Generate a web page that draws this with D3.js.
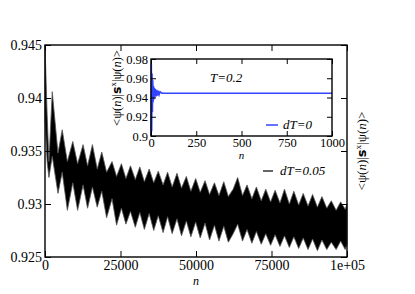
<!DOCTYPE html>
<html>
<head>
<meta charset="utf-8">
<script src="https://cdn.jsdelivr.net/npm/d3@7"></script>
<style>
  body { margin: 0; background: #fff; }
  text { font-family: "Liberation Serif", "DejaVu Serif", serif; }
</style>
</head>
<body>
<div id="chart"></div>
<script>
// main series (dT=0.05): band envelope
var nVals = [0, 700, 1300, 2400, 4300, 5700, 7400, 9200, 10800, 12600, 14100, 15700, 17300, 18800, 20400, 22200,
  23700, 25300, 26800, 28300, 29900, 31400, 32900, 34500, 36000, 37500, 39100, 40600, 42100, 43700, 45200, 46800,
  48300, 49900, 51400, 53000, 54500, 56100, 57600, 59200, 60700, 62300, 63800, 65400, 66900, 68500, 70000, 71600,
  73100, 74700, 76200, 77800, 79300, 80900, 82400, 84000, 85500, 87100, 88600, 90200, 91700, 93300, 94800, 96400,
  97900, 99400, 100000];
var upperVals = [0.9450, 0.9385, 0.9340, 0.9406, 0.9348, 0.9370, 0.9340, 0.9359, 0.9338, 0.9356, 0.9336, 0.9356, 0.9333, 0.9349, 0.9330, 0.9340,
  0.9326, 0.9338, 0.9324, 0.9336, 0.9323, 0.9335, 0.9321, 0.9333, 0.9320, 0.9331, 0.9318, 0.9330, 0.9316, 0.9329, 0.9315, 0.9326,
  0.9312, 0.9324, 0.9311, 0.9322, 0.9309, 0.9320, 0.9308, 0.9321, 0.9307, 0.9314, 0.9325, 0.9308, 0.9318, 0.9305, 0.9316, 0.9303,
  0.9314, 0.9302, 0.9313, 0.9301, 0.9314, 0.9300, 0.9312, 0.9299, 0.9310, 0.9298, 0.9309, 0.9297, 0.9307, 0.9296, 0.9303, 0.9294,
  0.9302, 0.9295, 0.9300];
var lowerVals = [0.9380, 0.9340, 0.9325, 0.9345, 0.9310, 0.9330, 0.9294, 0.9320, 0.9294, 0.9318, 0.9296, 0.9316, 0.9297, 0.9312, 0.9287, 0.9305,
  0.9280, 0.9296, 0.9281, 0.9293, 0.9278, 0.9292, 0.9276, 0.9291, 0.9275, 0.9289, 0.9273, 0.9288, 0.9272, 0.9286, 0.9270, 0.9284,
  0.9269, 0.9283, 0.9268, 0.9282, 0.9266, 0.9280, 0.9265, 0.9279, 0.9264, 0.9272, 0.9281, 0.9265, 0.9276, 0.9263, 0.9274, 0.9262,
  0.9272, 0.9261, 0.9271, 0.9260, 0.9270, 0.9259, 0.9269, 0.9258, 0.9268, 0.9257, 0.9267, 0.9256, 0.9266, 0.9257, 0.9264, 0.9257,
  0.9265, 0.9257, 0.9262];

// inset series (dT=0)
var insetN = [0, 2, 4, 6, 8, 10, 12, 14, 16, 18, 20, 24, 28, 32, 36, 40, 45, 50, 60, 1000];
var insetV = [0.900, 0.975, 0.905, 0.965, 0.925, 0.958, 0.935, 0.952, 0.938, 0.950, 0.940, 0.949, 0.941, 0.948, 0.942, 0.947, 0.943, 0.946, 0.9445, 0.9445];

var xTicks = [0, 25000, 50000, 75000, 100000];
var xTickLabels = ["0", "25000", "50000", "75000", "1e+05"];
var yTicks = [0.925, 0.93, 0.935, 0.94, 0.945];
var insetXTicks = [0, 250, 500, 750, 1000];
var insetYTicks = [0.9, 0.92, 0.94, 0.96, 0.98];

var svgWidth = 415, svgHeight = 294;
var margin = {top: 45, right: 68, bottom: 37, left: 45};
var chartWidth = svgWidth - margin.left - margin.right;
var chartHeight = svgHeight - margin.top - margin.bottom;

var svg = d3.select("#chart").append("svg")
  .attr("width", svgWidth)
  .attr("height", svgHeight);

var chartGroup = svg.append("g")
  .attr("transform", `translate(${margin.left}, ${margin.top})`);

var x = d3.scaleLinear().domain([0, 100000]).range([0, chartWidth]);
var y = d3.scaleLinear().domain([0.925, 0.945]).range([chartHeight, 0]);

var bandData = nVals.map(function(n, i) { return {n: n, hi: upperVals[i], lo: lowerVals[i]}; });

var area = d3.area()
  .x(d => x(d.n))
  .y0(d => y(d.lo))
  .y1(d => y(d.hi));

chartGroup.append("path")
  .datum(bandData)
  .attr("d", area)
  .attr("fill", "#000")
  .attr("stroke", "#555")
  .attr("stroke-width", 0.8);

// axes, ticks inward
function styleAxis(g, fs) {
  g.select(".domain").remove();
  g.selectAll(".tick line").attr("stroke", "#000").attr("stroke-width", 1);
  g.selectAll(".tick text").attr("fill", "#000").style("font-size", fs + "px")
    .style("font-family", "'Liberation Serif', serif");
}

var bottomAxis = d3.axisBottom(x).tickValues(xTicks).tickSize(-6).tickPadding(3)
  .tickFormat((d, i) => xTickLabels[i]);
chartGroup.append("g").attr("transform", `translate(0, ${chartHeight})`)
  .call(bottomAxis).call(g => styleAxis(g, 14));

chartGroup.append("g")
  .call(d3.axisTop(x).tickValues(xTicks).tickSize(-6).tickFormat(""))
  .call(g => styleAxis(g, 14));

var leftAxis = d3.axisLeft(y).tickValues(yTicks).tickSize(-6).tickPadding(3)
  .tickFormat(d3.format("~g"));
chartGroup.append("g").call(leftAxis).call(g => styleAxis(g, 14));

chartGroup.append("g").attr("transform", `translate(${chartWidth}, 0)`)
  .call(d3.axisRight(y).tickValues(yTicks).tickSize(-6).tickFormat(""))
  .call(g => styleAxis(g, 14));

chartGroup.append("rect")
  .attr("width", chartWidth).attr("height", chartHeight)
  .attr("fill", "none").attr("stroke", "#000").attr("stroke-width", 1.4);

chartGroup.append("text")
  .attr("x", chartWidth / 2).attr("y", chartHeight + 28)
  .attr("text-anchor", "middle")
  .style("font-size", "12px").style("font-style", "italic")
  .text("n");

// main legend
chartGroup.append("line")
  .attr("x1", 218).attr("x2", 228).attr("y1", 126).attr("y2", 126)
  .attr("stroke", "#000").attr("stroke-width", 1.2);
chartGroup.append("text")
  .attr("x", 235).attr("y", 130)
  .style("font-size", "13px").style("font-style", "italic")
  .text("dT=0.05");

// right side label
function psiLabel(sel) {
  sel.append("tspan").text("<ψ(");
  sel.append("tspan").style("font-style", "italic").text("n");
  sel.append("tspan").text(")|");
  sel.append("tspan").style("font-weight", "bold").style("font-family", "'DejaVu Sans', sans-serif").text("s");
  sel.append("tspan").attr("dy", -5).style("font-size", "0.7em").text("x");
  sel.append("tspan").attr("dy", 5).text("|ψ(");
  sel.append("tspan").style("font-style", "italic").text("n");
  sel.append("tspan").text(")>");
}

svg.append("text")
  .attr("transform", "translate(366, 151) rotate(-90)")
  .attr("text-anchor", "middle")
  .style("font-size", "13px")
  .call(psiLabel);

// inset
var inset = {left: 151, top: 59, width: 181, height: 77};
var insetGroup = svg.append("g")
  .attr("transform", `translate(${inset.left}, ${inset.top})`);

var ix = d3.scaleLinear().domain([0, 1000]).range([0, inset.width]);
var iy = d3.scaleLinear().domain([0.9, 0.98]).range([inset.height, 0]);

insetGroup.append("rect")
  .attr("width", inset.width).attr("height", inset.height)
  .attr("fill", "#fff");

var insetLine = d3.line().x((d, i) => ix(insetN[i])).y(d => iy(d));
insetGroup.append("path")
  .datum(insetV)
  .attr("d", insetLine)
  .attr("fill", "none")
  .attr("stroke", "#3344ff")
  .attr("stroke-width", 1.5);

insetGroup.append("g").attr("transform", `translate(0, ${inset.height})`)
  .call(d3.axisBottom(ix).tickValues(insetXTicks).tickSize(-5).tickPadding(2).tickFormat(d3.format("d")))
  .call(g => styleAxis(g, 12.5));
insetGroup.append("g")
  .call(d3.axisTop(ix).tickValues(insetXTicks).tickSize(-5).tickFormat(""))
  .call(g => styleAxis(g, 12.5));
insetGroup.append("g")
  .call(d3.axisLeft(iy).tickValues(insetYTicks).tickSize(-5).tickPadding(3).tickFormat(d3.format("~g")))
  .call(g => styleAxis(g, 12.5));
insetGroup.append("g").attr("transform", `translate(${inset.width}, 0)`)
  .call(d3.axisRight(iy).tickValues(insetYTicks).tickSize(-5).tickFormat(""))
  .call(g => styleAxis(g, 12.5));

insetGroup.append("rect")
  .attr("width", inset.width).attr("height", inset.height)
  .attr("fill", "none").attr("stroke", "#000").attr("stroke-width", 1.4);

insetGroup.append("text")
  .attr("x", inset.width / 2).attr("y", inset.height + 23)
  .attr("text-anchor", "middle")
  .style("font-size", "11px").style("font-style", "italic")
  .text("n");

insetGroup.append("text")
  .attr("x", 59).attr("y", 23)
  .style("font-size", "13px").style("font-style", "italic")
  .text("T=0.2");

insetGroup.append("line")
  .attr("x1", 115).attr("x2", 127).attr("y1", 66).attr("y2", 66)
  .attr("stroke", "#3344ff").attr("stroke-width", 1.5);
insetGroup.append("text")
  .attr("x", 132).attr("y", 70)
  .style("font-size", "13px").style("font-style", "italic")
  .text("dT=0");

svg.append("text")
  .attr("transform", "translate(121, 88) rotate(-90)")
  .attr("text-anchor", "middle")
  .style("font-size", "12.5px")
  .call(psiLabel);
</script>
</body>
</html>
